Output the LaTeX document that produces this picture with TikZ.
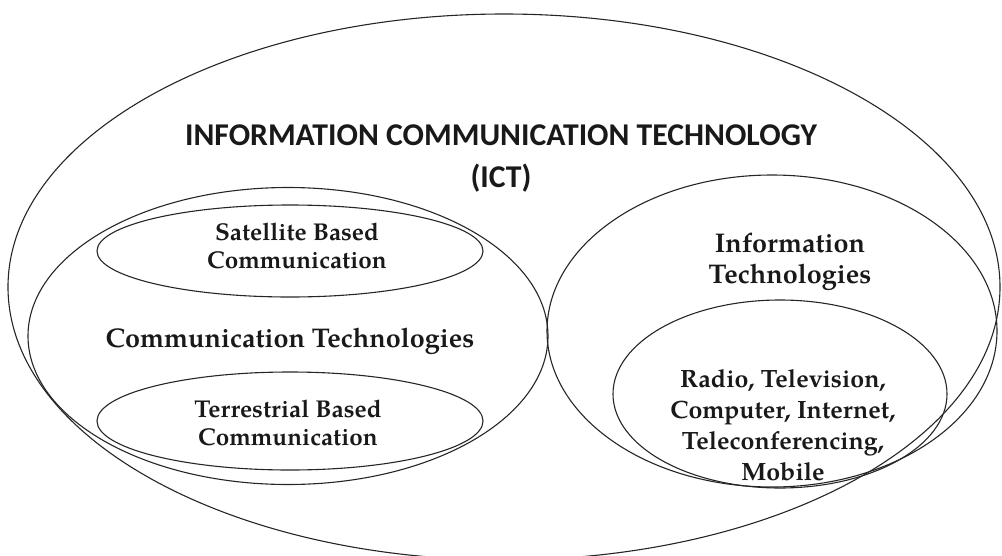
\documentclass[tikz,border=0pt]{standalone}
\usepackage{fontspec}
\usetikzlibrary{shapes.geometric}
\newfontfamily\headfont{Carlito}
\newfontfamily\palfont{texgyrepagella}[Extension=.otf, UprightFont=*-regular, BoldFont=*-bold]
\begin{document}
\begin{tikzpicture}[x=1pt,y=-1pt,
  ell/.style={draw=black!85, line width=1.1pt, ellipse, inner sep=0pt},
  lbl/.style={font=\palfont\bfseries\fontsize{27}{31}\selectfont, align=center, text=black!90, inner sep=0pt},
  mid/.style={font=\palfont\bfseries\fontsize{25}{31}\selectfont, align=center, text=black!90, inner sep=0pt},
  small/.style={font=\palfont\bfseries\fontsize{24.3}{28}\selectfont, align=center, text=black!90, inner sep=0pt},
  head/.style={font=\headfont\bfseries\fontsize{31.7}{42}\selectfont, align=center, text=black!90, inner sep=0pt}]
\useasboundingbox (0,0) rectangle (1002,555);
% ellipses
\node[ell, minimum width=992pt, minimum height=546pt] (ict) at (504,287) {};
\node[ell, minimum width=520pt, minimum height=297pt] (comm) at (288,336) {};
\node[ell, minimum width=386pt, minimum height=92pt] (sat) at (290,251) {};
\node[ell, minimum width=386pt, minimum height=98pt] (ter) at (290,421) {};
\node[ell, minimum width=450pt, minimum height=312pt] (it) at (772,331) {};
\node[ell, minimum width=334pt, minimum height=188pt] (media) at (780,394) {};
% labels
\node[head] (ictlbl) at (501,159) {INFORMATION COMMUNICATION TECHNOLOGY\\(ICT)};
\node[small] (satlbl) at (297,246) {Satellite Based\\Communication};
\node[lbl] (commlbl) at (290,341) {Communication Technologies};
\node[small] (terlbl) at (288,423) {Terrestrial Based\\Communication};
\node[lbl] (itlbl) at (790,262) {Information\\Technologies};
\node[mid] (medialbl) at (783,425) {Radio, Television,\\Computer, Internet,\\Teleconferencing,\\Mobile};
\end{tikzpicture}
\end{document}
